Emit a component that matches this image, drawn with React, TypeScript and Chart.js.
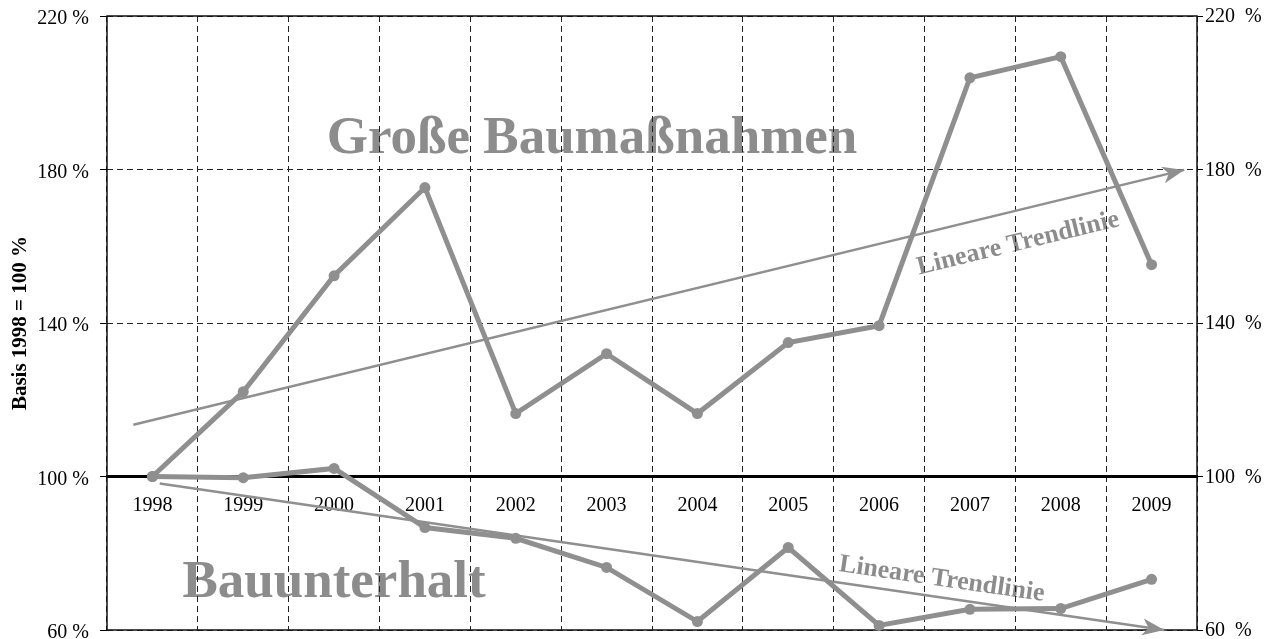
import React, { useEffect, useRef } from 'react';
import { Chart, registerables } from 'chart.js';

Chart.register(...registerables);

// ---- data ----
const years = ['1998', '1999', '2000', '2001', '2002', '2003', '2004', '2005', '2006', '2007', '2008', '2009'];
const grosseBaumassnahmen = [100, 122.1, 152.3, 175.3, 116.4, 132.0, 116.4, 134.9, 139.3, 203.9, 209.4, 155.2];
const bauunterhalt = [100, 99.7, 102.1, 86.7, 83.9, 76.3, 62.2, 81.5, 61.2, 65.4, 65.6, 73.2];
// linear trend lines (x in category index units)
const trendGrosseX = [-0.21, 11.36];
const trendGrosseY = [113.5, 179.9];
const trendUnterhaltX = [0.08, 11.14];
const trendUnterhaltY = [98.2, 60.0];
const yMin = 60;
const yMax = 220;
const yStep = 40;
const axisTitle = 'Basis 1998 = 100 %';
const seriesTitles = ['Große Baumaßnahmen', 'Bauunterhalt'];
const seriesTitleX = [4.84, 2.0];
const seriesTitleY = [184.4, 68.5];
const trendLabel = 'Lineare Trendlinie';
const trendLabelX = [9.53, 8.69];
const trendLabelY = [160.7, 73.2];

const GRAY = '#8f8f8f';
const TEXT_GRAY = '#8c8c8c';
const FONT = '"Liberation Serif", "Times New Roman", serif';

const textPlugin = {
  id: 'bgTexts',
  beforeDraw(chart: any) {
    const { ctx, scales } = chart;
    const xs = scales.xt;
    const ys = scales.y;
    ctx.save();
    ctx.fillStyle = TEXT_GRAY;
    ctx.font = `bold 53px ${FONT}`;
    ctx.textAlign = 'center';
    ctx.textBaseline = 'alphabetic';
    seriesTitles.forEach((t, i) => {
      ctx.fillText(t, xs.getPixelForValue(seriesTitleX[i]), ys.getPixelForValue(seriesTitleY[i]));
    });
    const trends = [
      [trendGrosseX, trendGrosseY],
      [trendUnterhaltX, trendUnterhaltY],
    ];
    ctx.font = `bold 26px ${FONT}`;
    ctx.textBaseline = 'middle';
    trends.forEach(([tx, ty], i) => {
      const x0 = xs.getPixelForValue(tx[0]);
      const y0 = ys.getPixelForValue(ty[0]);
      const x1 = xs.getPixelForValue(tx[1]);
      const y1 = ys.getPixelForValue(ty[1]);
      const ang = Math.atan2(y1 - y0, x1 - x0);
      ctx.save();
      ctx.translate(xs.getPixelForValue(trendLabelX[i]), ys.getPixelForValue(trendLabelY[i]));
      ctx.rotate(ang);
      ctx.fillText(trendLabel, 0, 0);
      ctx.restore();
    });
    ctx.restore();
  },
  beforeDatasetsDraw(chart: any) {
    const { ctx, chartArea } = chart;
    ctx.save();
    ctx.strokeStyle = '#111';
    ctx.lineWidth = 1.5;
    ctx.setLineDash([]);
    ctx.strokeRect(chartArea.left, chartArea.top, chartArea.right - chartArea.left, chartArea.bottom - chartArea.top);
    ctx.restore();
  },
  afterDatasetsDraw(chart: any) {
    const { ctx } = chart;
    [2, 3].forEach((di) => {
      const meta = chart.getDatasetMeta(di);
      const pts = meta.data;
      if (!pts || pts.length < 2) return;
      const a = pts[pts.length - 2];
      const b = pts[pts.length - 1];
      const ang = Math.atan2(b.y - a.y, b.x - a.x);
      const len = 22;
      const half = 8.5;
      ctx.save();
      ctx.translate(b.x, b.y);
      ctx.rotate(ang);
      ctx.fillStyle = GRAY;
      ctx.beginPath();
      ctx.moveTo(0, 0);
      ctx.lineTo(-len, -half);
      ctx.lineTo(-len * 0.72, 0);
      ctx.lineTo(-len, half);
      ctx.closePath();
      ctx.fill();
      ctx.restore();
    });
  },
};

export default function App() {
  const ref = useRef<HTMLCanvasElement | null>(null);

  useEffect(() => {
    if (!ref.current) return;
    const chart = new Chart(ref.current, {
      type: 'line',
      data: {
        labels: years,
        datasets: [
          {
            label: seriesTitles[0],
            data: grosseBaumassnahmen,
            xAxisID: 'x',
            yAxisID: 'y',
            borderColor: GRAY,
            backgroundColor: GRAY,
            borderWidth: 5,
            pointRadius: 5.5,
            pointBorderWidth: 0,
            pointBackgroundColor: GRAY,
            tension: 0,
            clip: false,
          },
          {
            label: seriesTitles[1],
            data: bauunterhalt,
            xAxisID: 'x',
            yAxisID: 'y',
            borderColor: GRAY,
            backgroundColor: GRAY,
            borderWidth: 5,
            pointRadius: 5.5,
            pointBorderWidth: 0,
            pointBackgroundColor: GRAY,
            tension: 0,
            clip: false,
          },
          {
            label: 'Trend 1',
            data: trendGrosseX.map((x, i) => ({ x, y: trendGrosseY[i] })),
            xAxisID: 'xt',
            yAxisID: 'y',
            borderColor: GRAY,
            borderWidth: 2.5,
            pointRadius: 0,
            tension: 0,
            clip: false,
          },
          {
            label: 'Trend 2',
            data: trendUnterhaltX.map((x, i) => ({ x, y: trendUnterhaltY[i] })),
            xAxisID: 'xt',
            yAxisID: 'y',
            borderColor: GRAY,
            borderWidth: 2.5,
            pointRadius: 0,
            tension: 0,
            clip: false,
          },
        ],
      },
      options: {
        animation: false,
        responsive: true,
        maintainAspectRatio: false,
        layout: { padding: { top: 16, bottom: 9, left: 0, right: 0 } },
        plugins: { legend: { display: false }, tooltip: { enabled: false } },
        scales: {
          x: {
            type: 'category',
            position: { y: 100 } as any,
            offset: true,
            grid: {
              display: true,
              offset: true,
              drawOnChartArea: true,
              drawTicks: false,
              color: '#222',
              lineWidth: 1,
            },
            border: { display: true, color: '#000', width: 3, dash: [6, 4] },
            ticks: {
              color: '#000',
              font: { family: FONT, size: 20 },
              padding: 17,
              maxRotation: 0,
              autoSkip: false,
            },
            afterFit: (s: any) => {
              s.paddingLeft = 0;
              s.paddingRight = 0;
              s.paddingTop = 0;
              s.paddingBottom = 0;
            },
          },
          xt: {
            type: 'linear',
            display: false,
            min: -0.5,
            max: 11.5,
          },
          y: {
            type: 'linear',
            position: 'left',
            min: yMin,
            max: yMax,
            ticks: {
              stepSize: yStep,
              color: '#000',
              font: { family: FONT, size: 20 },
              padding: 11,
              labelOffset: 3,
              callback: (v: any) => `${v} %`,
            },
            grid: {
              color: '#222',
              lineWidth: 1,
              tickLength: 7,
              tickColor: '#000',
            },
            border: { display: false, dash: [6, 4] },
            title: {
              display: true,
              text: axisTitle,
              color: '#000',
              font: { family: FONT, size: 21, weight: 'bold' },
              padding: { top: 7.5, bottom: 0 },
            },
            afterFit: (s: any) => {
              s.width = 107;
              s.paddingTop = 0;
              s.paddingBottom = 0;
            },
          },
          y2: {
            type: 'linear',
            position: 'right',
            min: yMin,
            max: yMax,
            ticks: {
              stepSize: yStep,
              color: '#000',
              font: { family: FONT, size: 20 },
              padding: 2,
              labelOffset: 1,
              callback: (v: any) => `${v}  %`,
            },
            grid: {
              drawOnChartArea: false,
              tickLength: 6,
              tickColor: '#000',
            },
            border: { display: false },
            afterFit: (s: any) => {
              s.width = 79;
              s.paddingTop = 0;
              s.paddingBottom = 0;
            },
          },
        },
      },
      plugins: [textPlugin],
    } as any);
    return () => chart.destroy();
  }, []);

  return (
    <div style={{ position: 'fixed', left: 0, top: 0, width: 1276, height: 639, background: '#fff' }}>
      <canvas ref={ref} />
    </div>
  );
}
